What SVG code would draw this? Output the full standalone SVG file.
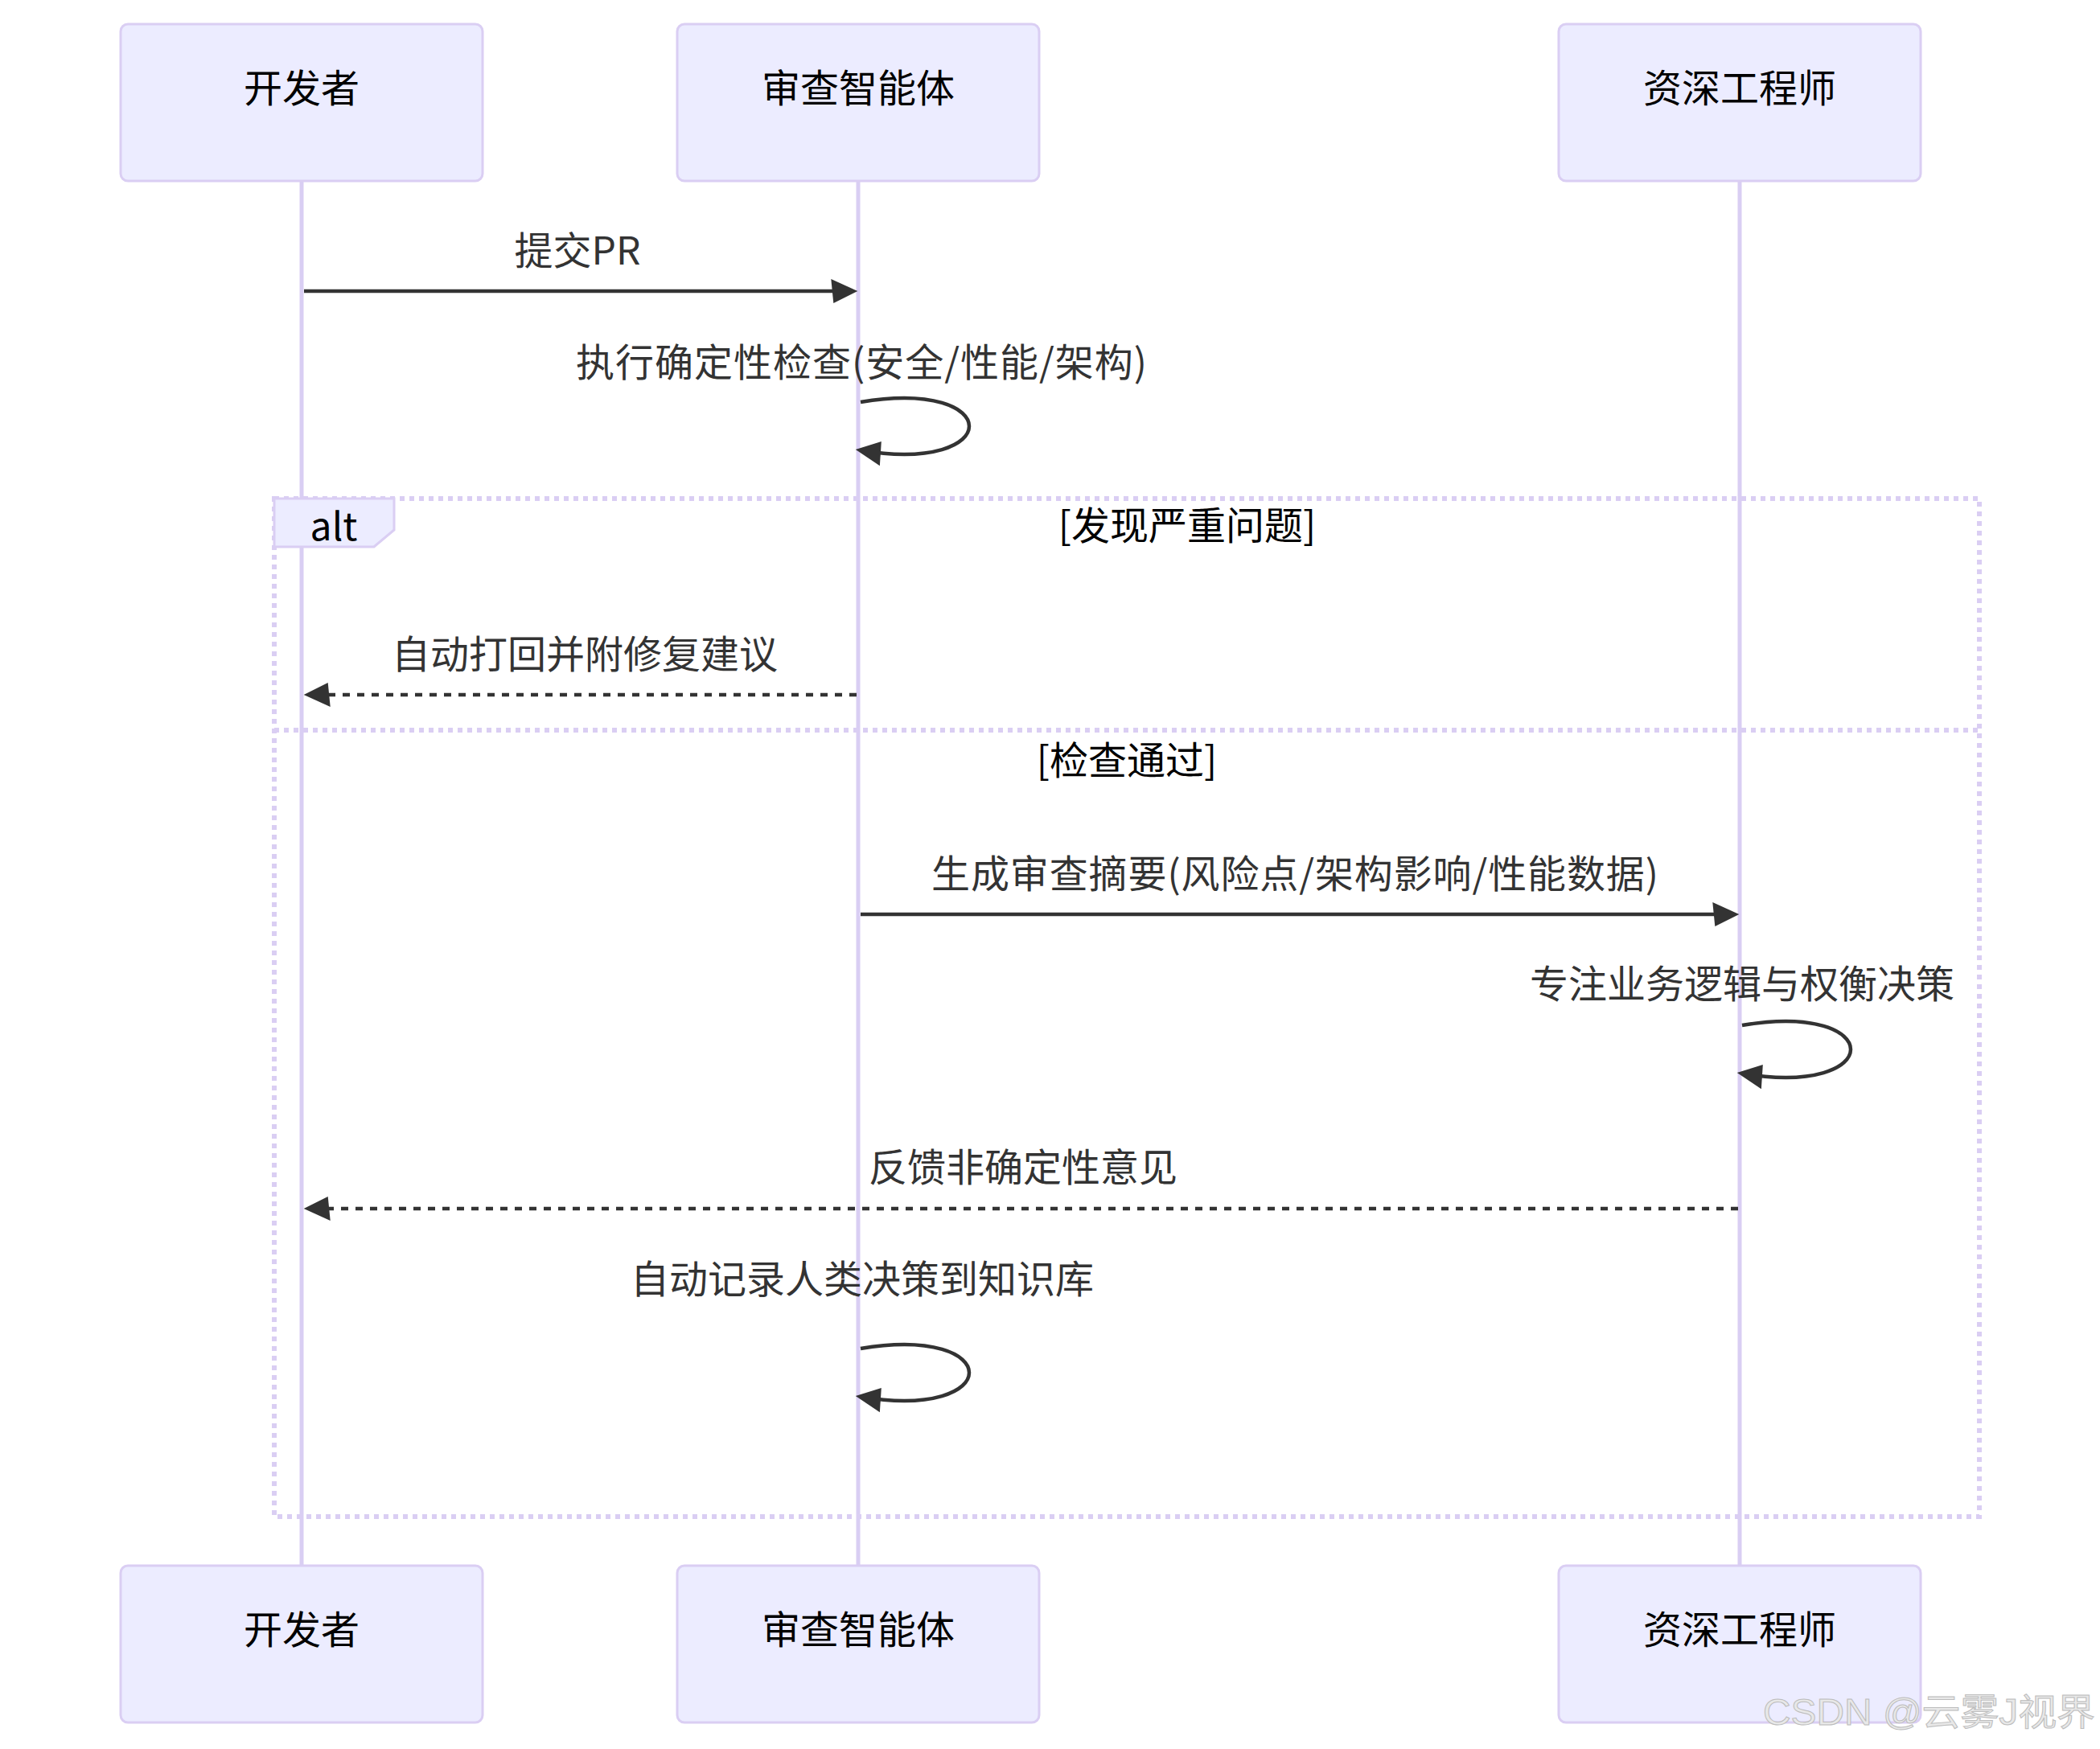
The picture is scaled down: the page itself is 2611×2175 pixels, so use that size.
<svg xmlns="http://www.w3.org/2000/svg" width="2611" height="2175" viewBox="0 0 2611 2175">
  <style>
    .actor { fill: #ECECFF; stroke: #DACEF3; stroke-width: 3; }
    .actor-text { font-family: "Noto Sans CJK SC", "Noto Sans", sans-serif; font-size: 48px; fill: #000; text-anchor: middle; }
    .lifeline { stroke: #D9CEF3; stroke-width: 5; fill: none; }
    .msg { stroke: #333; stroke-width: 4.5; fill: none; }
    .dashed { stroke-dasharray: 9 9; }
    .msg-text { font-family: "Noto Sans CJK SC", "Noto Sans", sans-serif; font-size: 48px; fill: #333; text-anchor: middle; }
    .loop-line { stroke: #DACEF3; stroke-width: 6; stroke-dasharray: 6 6; fill: none; }
    .label-box { fill: #ECECFF; stroke: #DACEF3; stroke-width: 3; }
    .label-text { font-family: "Noto Sans CJK SC", "Noto Sans", sans-serif; font-size: 48px; fill: #000; text-anchor: middle; }
    .watermark { font-family: "Liberation Sans", "Noto Sans CJK SC", sans-serif; font-size: 46px; fill: #e8e8e8; stroke: #bcbcbc; stroke-width: 1; }
  </style>
  <defs>
    <marker id="arrowhead" refX="23.7" refY="15" markerWidth="36" markerHeight="36" markerUnits="userSpaceOnUse" orient="auto" style="overflow:visible">
      <path d="M -3 0 L 30 15 L 0 30 z" fill="#333"/>
    </marker>
  </defs>
  <rect width="2611" height="2175" fill="#fff"/>

  <g id="lifelines">
    <line class="lifeline" x1="375" y1="225" x2="375" y2="1947"/>
    <line class="lifeline" x1="1067" y1="225" x2="1067" y2="1947"/>
    <line class="lifeline" x1="2163" y1="225" x2="2163" y2="1947"/>
  </g>

  <g id="actor-dev-top">
    <rect class="actor" x="150" y="30" width="450" height="195" rx="9"/>
    <text class="actor-text" x="375" y="127">开发者</text>
  </g>
  <g id="actor-agent-top">
    <rect class="actor" x="842" y="30" width="450" height="195" rx="9"/>
    <text class="actor-text" x="1067" y="127">审查智能体</text>
  </g>
  <g id="actor-senior-top">
    <rect class="actor" x="1938" y="30" width="450" height="195" rx="9"/>
    <text class="actor-text" x="2163" y="127">资深工程师</text>
  </g>

  <g id="actor-dev-bottom">
    <rect class="actor" x="150" y="1947" width="450" height="195" rx="9"/>
    <text class="actor-text" x="375" y="2044">开发者</text>
  </g>
  <g id="actor-agent-bottom">
    <rect class="actor" x="842" y="1947" width="450" height="195" rx="9"/>
    <text class="actor-text" x="1067" y="2044">审查智能体</text>
  </g>
  <g id="actor-senior-bottom">
    <rect class="actor" x="1938" y="1947" width="450" height="195" rx="9"/>
    <text class="actor-text" x="2163" y="2044">资深工程师</text>
  </g>

  <g id="alt-block">
    <rect class="loop-line" x="341" y="620" width="2120" height="1266"/>
    <line class="loop-line" x1="341" y1="908" x2="2461" y2="908"/>
    <polygon class="label-box" points="341,620 490,620 490,659 465,680 341,680"/>
    <text class="label-text" x="415" y="672">alt</text>
    <text class="label-text" x="1476" y="671">[发现严重问题]</text>
    <text class="label-text" x="1401" y="963">[检查通过]</text>
  </g>

  <g id="connectors">
    <path class="msg" d="M 378 362 L 1060 362" marker-end="url(#arrowhead)"/>
    <path class="msg" d="M 1070 500 C 1250 470 1250 590 1070 560" marker-end="url(#arrowhead)"/>
    <path class="msg dashed" d="M 1065 864 L 384 864" marker-end="url(#arrowhead)"/>
    <path class="msg" d="M 1070 1137 L 2156 1137" marker-end="url(#arrowhead)"/>
    <path class="msg" d="M 2166 1275 C 2346 1245 2346 1365 2166 1335" marker-end="url(#arrowhead)"/>
    <path class="msg dashed" d="M 2161 1503 L 384 1503" marker-end="url(#arrowhead)"/>
    <path class="msg" d="M 1070 1677 C 1250 1647 1250 1767 1070 1737" marker-end="url(#arrowhead)"/>
  </g>

  <g id="message-labels">
    <text class="msg-text" x="718" y="329">提交PR</text>
    <text class="msg-text" x="1071" y="468" textLength="710" lengthAdjust="spacing">执行确定性检查(安全/性能/架构)</text>
    <text class="msg-text" x="727" y="831">自动打回并附修复建议</text>
    <text class="msg-text" x="1610" y="1104" textLength="904" lengthAdjust="spacing">生成审查摘要(风险点/架构影响/性能数据)</text>
    <text class="msg-text" x="2166" y="1241">专注业务逻辑与权衡决策</text>
    <text class="msg-text" x="1272" y="1469">反馈非确定性意见</text>
    <text class="msg-text" x="1072" y="1608">自动记录人类决策到知识库</text>
  </g>

  <text class="watermark" x="2192" y="2145" textLength="413" lengthAdjust="spacingAndGlyphs">CSDN @云雾J视界</text>
</svg>
